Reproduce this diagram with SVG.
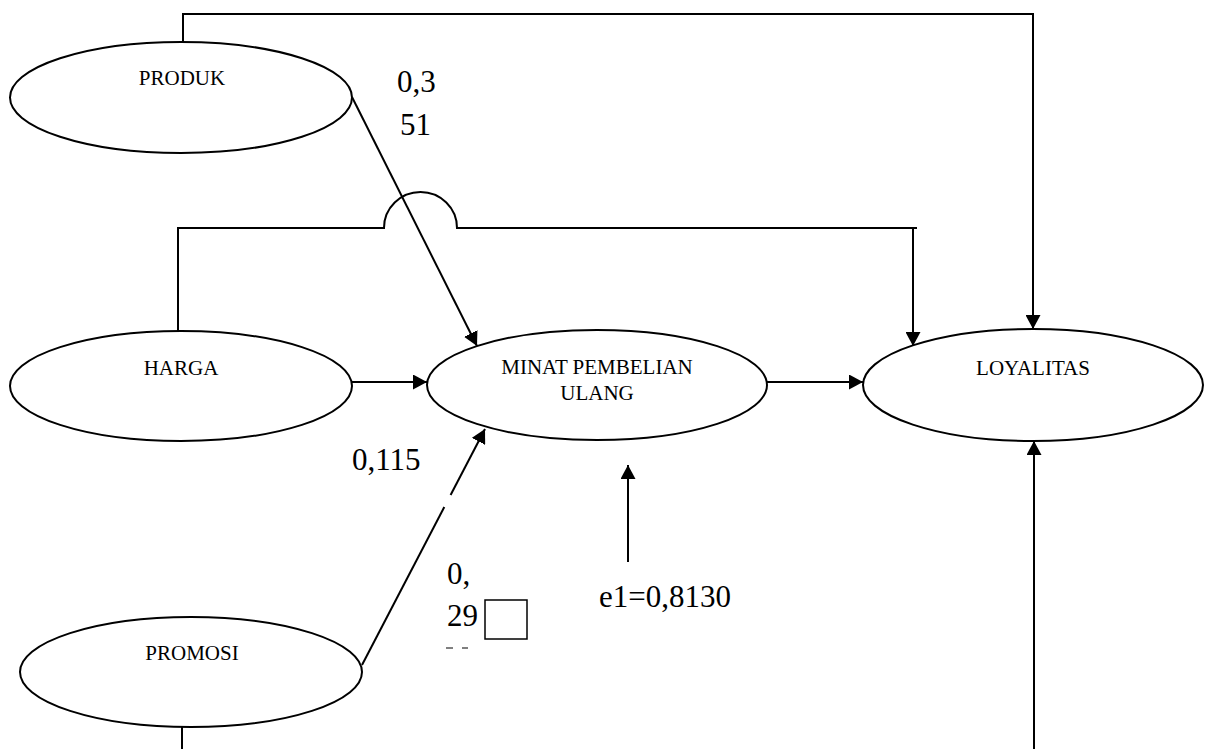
<svg xmlns="http://www.w3.org/2000/svg" width="1207" height="749" viewBox="0 0 1207 749">
<style>
.node ellipse{fill:#fff;stroke:#000;stroke-width:2}
.lbl{font-family:"Liberation Serif","Times New Roman",serif;font-size:21px;fill:#000;text-anchor:middle}
.num{font-family:"Liberation Serif","Times New Roman",serif;font-size:31px;fill:#000}
.c{fill:none;stroke:#000;stroke-width:2}
</style>
<defs>
<marker id="ah" viewBox="0 0 14 15" refX="14" refY="7.5" markerWidth="14" markerHeight="15" markerUnits="userSpaceOnUse" orient="auto">
<path d="M0,0 L14,7.5 L0,15 Z" fill="#000"/>
</marker>
</defs>
<rect width="1207" height="749" fill="#fff"/>
<g id="connectors">
<path class="c" d="M183,42 V14 H1033 V329" marker-end="url(#ah)"/>
<path class="c" d="M178,331 V228 H384 A36.5,36 0 0 1 457,228 H917"/>
<path class="c" d="M913,228 V346" marker-end="url(#ah)"/>
<path class="c" d="M352,97 L477,346" marker-end="url(#ah)"/>
<path class="c" d="M352,382 H427" marker-end="url(#ah)"/>
<path class="c" d="M767,382 H863" marker-end="url(#ah)"/>
<path class="c" d="M362,665 L444.3,507"/>
<path class="c" d="M450.6,495 L485,429" marker-end="url(#ah)"/>
<path class="c" d="M628,562 V465" marker-end="url(#ah)"/>
<path class="c" d="M1034,749 V441" marker-end="url(#ah)"/>
<path class="c" d="M182,727 V749"/>
</g>
<g id="produk" class="node"><ellipse cx="181" cy="97.5" rx="171" ry="55.5"/><text class="lbl" x="182" y="85">PRODUK</text></g>
<g id="harga" class="node"><ellipse cx="181" cy="386" rx="171" ry="55"/><text class="lbl" x="181" y="375">HARGA</text></g>
<g id="minat" class="node"><ellipse cx="597" cy="385" rx="170" ry="55"/><text class="lbl" x="597" y="374">MINAT PEMBELIAN</text><text class="lbl" x="597" y="400">ULANG</text></g>
<g id="loyalitas" class="node"><ellipse cx="1033" cy="385" rx="170" ry="56"/><text class="lbl" x="1033" y="375">LOYALITAS</text></g>
<g id="promosi" class="node"><ellipse cx="191" cy="672" rx="171" ry="55"/><text class="lbl" x="192" y="660">PROMOSI</text></g>
<g id="labels">
<text class="num" x="397" y="92">0,3</text>
<text class="num" x="400" y="135">51</text>
<text class="num" x="352" y="470">0,115</text>
<text class="num" x="447" y="584">0,</text>
<text class="num" x="447" y="626">29</text>
<text class="num" x="599" y="607">e1=0,8130</text>
<rect x="485" y="600" width="42" height="39" fill="none" stroke="#000" stroke-width="1.5"/>
<path d="M446,648 H453 M462,648 H468" stroke="#000" stroke-width="1"/>
</g>
</svg>
